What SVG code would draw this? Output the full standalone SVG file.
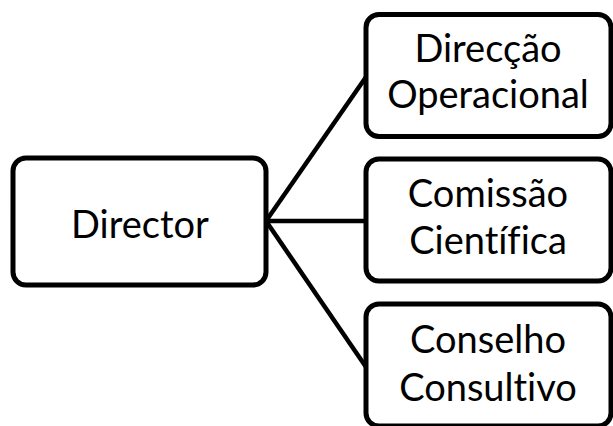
<svg xmlns="http://www.w3.org/2000/svg" width="613" height="426" viewBox="0 0 613 426">
<style>
.box{fill:#fff;stroke:#000;stroke-width:5}
.t{font-family:Lato,"Open Sans","Liberation Sans",sans-serif;font-size:38px;fill:#000;text-anchor:middle;font-variant-ligatures:none;font-feature-settings:"liga" 0,"clig" 0}
.c{stroke:#000;stroke-width:4.5;fill:none}
</style>
<rect width="613" height="426" fill="#fff"/>
<g id="connectors">
<line class="c" x1="266" y1="221" x2="366" y2="77"/>
<line class="c" x1="266" y1="221" x2="366" y2="221"/>
<line class="c" x1="266" y1="221" x2="366" y2="367"/>
</g>
<g id="director">
<rect class="box" x="13" y="158" width="253" height="127" rx="13"/>
<text class="t" x="140" y="238">Director</text>
</g>
<g id="direccao">
<rect class="box" x="366" y="14.5" width="245" height="122" rx="13"/>
<text class="t" x="488" y="62">Direcção</text>
<text class="t" x="488" y="108">Operacional</text>
</g>
<g id="comissao">
<rect class="box" x="366" y="159" width="245" height="122" rx="13"/>
<text class="t" x="488" y="207">Comissão</text>
<text class="t" x="488" y="254">Científica</text>
</g>
<g id="conselho">
<rect class="box" x="366" y="304" width="245" height="122" rx="13"/>
<text class="t" x="488" y="353">Conselho</text>
<text class="t" x="488" y="401">Consultivo</text>
</g>
</svg>
